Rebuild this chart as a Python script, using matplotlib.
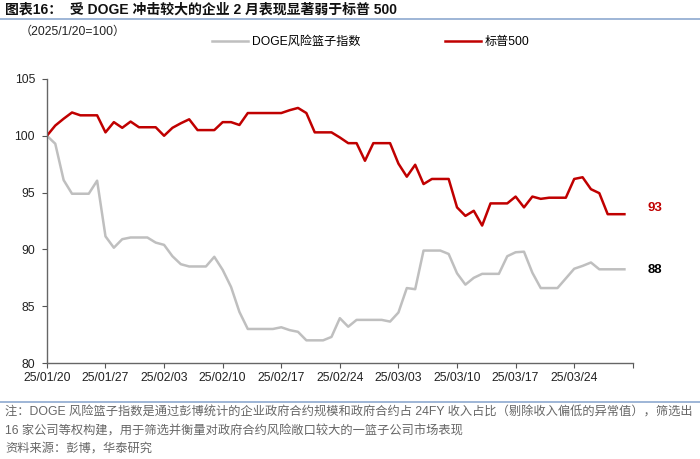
import numpy as np
import pandas as pd
import matplotlib
matplotlib.use('Agg')
import matplotlib.pyplot as plt
from matplotlib.lines import Line2D

plt.rcParams['font.family'] = ['Liberation Sans', 'Noto Sans CJK SC', 'DejaVu Sans']

# daily index, 2025/1/20 = 100
start_date = '2025-01-20'
n_days = 70

doge_basket = [100.0, 99.3, 96.1, 94.9, 94.9, 94.9, 96.05, 91.15, 90.15, 90.9,
               91.05, 91.05, 91.05, 90.6, 90.4, 89.4, 88.7, 88.5, 88.5, 88.5,
               89.35, 88.2, 86.7, 84.5, 83.0, 83.0, 83.0, 83.0, 83.15, 82.9,
               82.75, 82.0, 82.0, 82.0, 82.3, 83.95, 83.2, 83.8, 83.8, 83.8,
               83.8, 83.65, 84.45, 86.6, 86.5, 89.9, 89.9, 89.9, 89.6, 87.9,
               86.9, 87.5, 87.85, 87.85, 87.85, 89.4, 89.75, 89.8, 87.95, 86.6,
               86.6, 86.6, 87.45, 88.3, 88.55, 88.85, 88.25, 88.25, 88.25, 88.25]

sp500 = [100.0, 100.9, 101.5, 102.05, 101.8, 101.8, 101.8, 100.3, 101.2, 100.7,
         101.25, 100.75, 100.75, 100.75, 100.0, 100.7, 101.1, 101.45, 100.5, 100.5,
         100.5, 101.2, 101.2, 100.95, 102.0, 102.0, 102.0, 102.0, 102.0, 102.25,
         102.45, 102.0, 100.3, 100.3, 100.3, 99.85, 99.35, 99.35, 97.8, 99.35,
         99.35, 99.35, 97.55, 96.4, 97.45, 95.75, 96.2, 96.2, 96.2, 93.7,
         92.95, 93.4, 92.1, 94.05, 94.05, 94.05, 94.65, 93.7, 94.65, 94.45,
         94.55, 94.55, 94.55, 96.2, 96.35, 95.3, 94.95, 93.1, 93.1, 93.1]

tick_labels = ['25/01/20', '25/01/27', '25/02/03', '25/02/10', '25/02/17',
               '25/02/24', '25/03/03', '25/03/10', '25/03/17', '25/03/24', '']
y_ticks = [80, 85, 90, 95, 100, 105]

dates = pd.date_range(start_date, periods=n_days)
tick_dates = pd.date_range(start_date, periods=len(tick_labels), freq='7D')

GRAY = '#BFBFBF'
RED = '#C00000'
BLUE = '#8EA9CF'

fig = plt.figure(figsize=(7.0, 4.59), dpi=100)
ax = fig.add_axes([0.067, 0.209, 0.837, 0.619])

ax.plot(dates, doge_basket, color=GRAY, lw=1.8, label='DOGE风险篮子指数')
ax.plot(dates, sp500, color=RED, lw=1.8, label='标普500')

ax.set_xlim(tick_dates[0], tick_dates[-1])
ax.set_ylim(80, 105)
ax.set_yticks(y_ticks)
ax.set_xticks(tick_dates)
ax.set_xticklabels(tick_labels)
ax.tick_params(axis='both', labelsize=8.8, colors='#555555', length=3.5, width=0.8,
               labelcolor='#222222')
ax.tick_params(axis='x', pad=3)
ax.tick_params(axis='y', pad=5)
for s in ['top', 'right']:
    ax.spines[s].set_visible(False)
for s in ['left', 'bottom']:
    ax.spines[s].set_color('#666666')
    ax.spines[s].set_linewidth(1.0)

# end labels
ax.annotate(f'{sp500[-1]:.0f}', xy=(1.0, 0), xycoords='axes fraction',
            xytext=(655 / 700, 1 - 208 / 459), textcoords='figure fraction',
            ha='center', va='center', fontsize=9.5, fontweight='bold', color=RED)
ax.annotate(f'{doge_basket[-1]:.0f}', xy=(1.0, 0), xycoords='axes fraction',
            xytext=(655 / 700, 1 - 270 / 459), textcoords='figure fraction',
            ha='center', va='center', fontsize=9.5, fontweight='bold', color='black')

fig.legend(loc='center', bbox_to_anchor=(0.53, 1 - 42 / 459), ncol=2, frameon=False,
           fontsize=8.7, handlelength=3.0, handletextpad=0.3, columnspacing=7.0)

# title block
fig.text(5 / 700, 1 - 10 / 459, '图表16：  受 DOGE 冲击较大的企业 2 月表现显著弱于标普 500',
         ha='left', va='center', fontsize=10, fontweight='bold', color='#111111')
fig.add_artist(Line2D([0, 1], [1 - 19 / 459, 1 - 19 / 459], color=BLUE, lw=1.2))
fig.text(20 / 700, 1 - 32 / 459, '（2025/1/20=100）', ha='left', va='center',
         fontsize=8.7, color='#222222')

# notes
fig.add_artist(Line2D([0, 1], [1 - 402 / 459, 1 - 402 / 459], color=BLUE, lw=1.2))
note1 = '注：DOGE 风险篮子指数是通过彭博统计的企业政府合约规模和政府合约占 24FY 收入占比（剔除收入偏低的异常值），筛选出'
note2 = '16 家公司等权构建，用于筛选并衡量对政府合约风险敞口较大的一篮子公司市场表现'
note3 = '资料来源：彭博，华泰研究'
for txt, yy in [(note1, 413), (note2, 431), (note3, 449)]:
    fig.text(5 / 700, 1 - yy / 459, txt, ha='left', va='center', fontsize=8.8,
             color='#666666')

fig.savefig('out.png', dpi=100, facecolor='white')
